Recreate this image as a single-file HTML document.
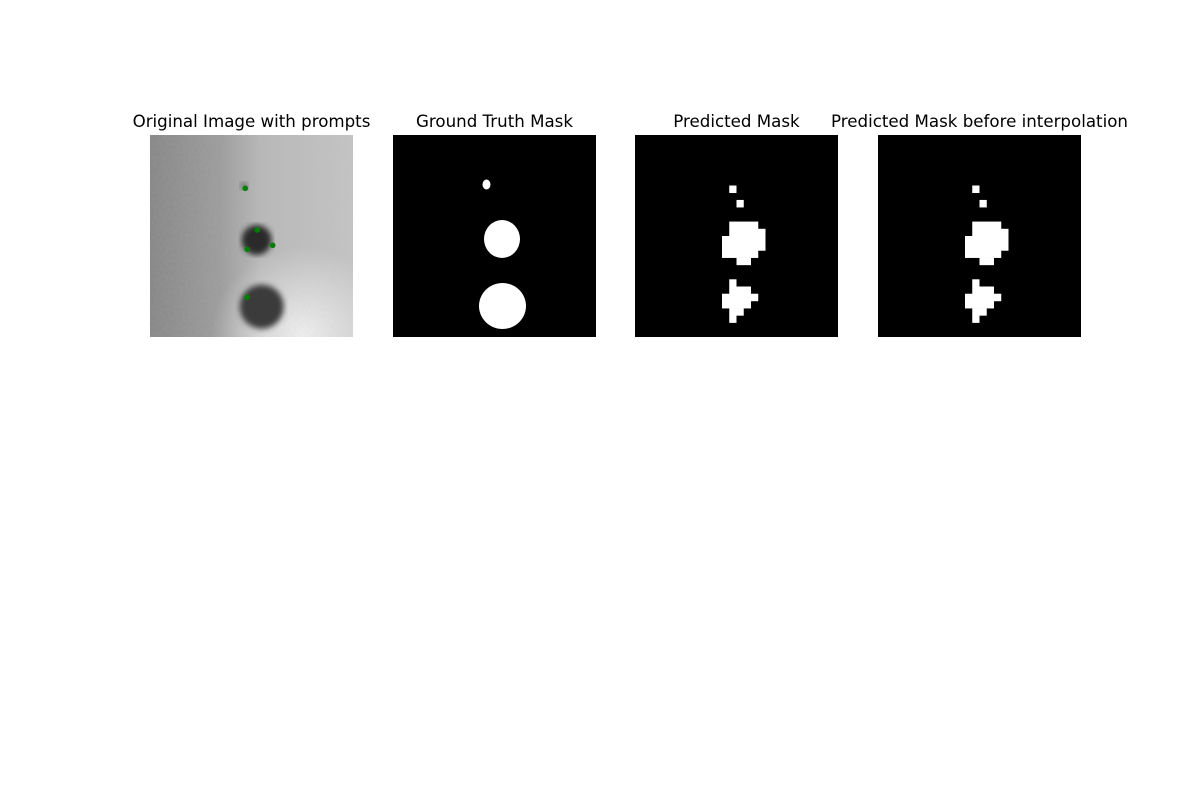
<!DOCTYPE html>
<html><head><meta charset="utf-8"><style>
html,body{margin:0;padding:0;background:#fff;width:1200px;height:800px;overflow:hidden}
svg text{font-family:"DejaVu Sans","Liberation Sans",sans-serif;font-size:16.67px;fill:#000}
</style></head><body>
<svg id="fig" width="1200" height="800" viewBox="0 0 1200 800">
<defs>
<linearGradient id="bgGrad" x1="0" y1="0" x2="1" y2="0">
<stop offset="0" stop-color="#858585"/><stop offset="0.35" stop-color="#9c9c9c"/><stop offset="0.55" stop-color="#b8b8b8"/><stop offset="1" stop-color="#c4c4c4"/>
</linearGradient>
<radialGradient id="glow" cx="0.75" cy="1" r="0.45">
<stop offset="0" stop-color="#f2f2f2"/><stop offset="1" stop-color="#f2f2f2" stop-opacity="0"/>
</radialGradient>
<filter id="blur"><feGaussianBlur stdDeviation="3"/></filter>
<filter id="noise"><feTurbulence type="fractalNoise" baseFrequency="0.35" numOctaves="2" seed="3"/><feColorMatrix type="matrix" values="0 0 0 0 0.5 0 0 0 0 0.5 0 0 0 0 0.5 0 0 0 0.18 0"/></filter>
<clipPath id="c1"><rect x="150" y="135" width="203" height="202"/></clipPath>
</defs>

<text x="251.5" y="127" text-anchor="middle">Original Image with prompts</text>
<text x="494.5" y="127" text-anchor="middle">Ground Truth Mask</text>
<text x="736.5" y="127" text-anchor="middle">Predicted Mask</text>
<text x="979.5" y="127" text-anchor="middle">Predicted Mask before interpolation</text>

<g clip-path="url(#c1)">
<rect x="150" y="135" width="203" height="202" fill="url(#bgGrad)"/>
<rect x="150" y="135" width="203" height="202" fill="url(#glow)"/>
<rect x="150" y="135" width="203" height="202" filter="url(#noise)"/>
<circle cx="256.7" cy="240" r="15" fill="#2a2a2a" filter="url(#blur)"/>
<circle cx="261.7" cy="306.7" r="22" fill="#3a3a3a" filter="url(#blur)"/>
<circle cx="244" cy="186" r="4" fill="#777" filter="url(#blur)"/>
</g>
<g id="prompts"></g>

<rect x="393" y="135" width="203" height="202" fill="#000"/>
<g fill="#fff">
<ellipse cx="486.5" cy="184.5" rx="4" ry="5"/>
<ellipse cx="502" cy="239" rx="18" ry="19"/>
<ellipse cx="502.5" cy="306" rx="23.5" ry="23"/>
</g>

<rect x="635" y="135" width="203" height="202" fill="#000"/>
<g id="pred"></g>
<rect x="878" y="135" width="203" height="202" fill="#000"/>
<g id="pred2"></g>
</svg>
<script>
// prompt points in original image pixel coords (panel-relative px)
const promptX = [95.3, 107.3, 97.3, 122.7, 97.3];
const promptY = [53.3, 95, 114.3, 110.3, 162.3];
// predicted mask rows: [row, colStart, colEnd] on a 28x28 grid
const maskRows = [7, 9, 12, 13, 14, 15, 16, 17, 20, 21, 22, 23, 24, 25];
const maskStart = [13, 14, 13, 13, 12, 12, 12, 14, 13, 13, 12, 12, 13, 13];
const maskEnd   = [13, 14, 16, 17, 17, 17, 16, 15, 13, 15, 16, 15, 14, 13];
const NS = "http://www.w3.org/2000/svg";
const grid = 28, panelW = 203, panelH = 202;
function cx(c){return c*panelW/grid;}
function cy(r){return r*panelH/grid;}
const pg = document.getElementById('prompts');
for (let i=0;i<promptX.length;i++){
  const c=document.createElementNS(NS,'circle');
  c.setAttribute('cx',150+promptX[i]);c.setAttribute('cy',135+promptY[i]);c.setAttribute('r',2.8);c.setAttribute('fill','#008000');
  
  
  pg.appendChild(c);
}
function drawMask(g, x0, y0){
  for (let i=0;i<maskRows.length;i++){
    const r=document.createElementNS(NS,'rect');
    r.setAttribute('x',x0+cx(maskStart[i]));
    r.setAttribute('y',y0+cy(maskRows[i]));
    r.setAttribute('width',cx(maskEnd[i]-maskStart[i]+1));
    r.setAttribute('height',cy(1)+0.3);
    r.setAttribute('fill','#fff');
    
    
    g.appendChild(r);
  }
}
drawMask(document.getElementById('pred'),635,135);
drawMask(document.getElementById('pred2'),878,135);
</script>
</body></html>
